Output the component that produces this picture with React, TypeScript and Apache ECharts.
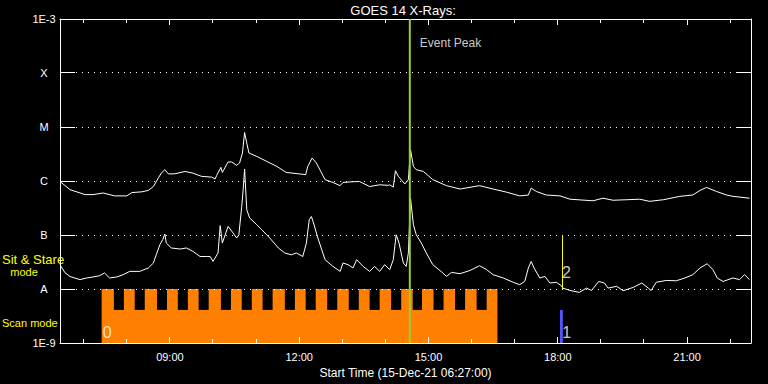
import React, { useEffect, useRef } from "react";
import * as echarts from "echarts";

const startTime = "06:27";
const endTime = "22:29";
const majorTicks = ["09:00", "12:00", "15:00", "18:00", "21:00"];
const minorTicks = ["07:00", "08:00", "10:00", "11:00", "13:00", "14:00", "16:00", "17:00", "19:00", "20:00", "22:00"];
const levelValues = [1e-9, 1e-8, 1e-7, 1e-6, 1e-5, 1e-4, 1e-3];
const levelLabels = ["1E-9", "A", "B", "C", "M", "X", "1E-3"];
const gridLevels = [1e-8, 1e-7, 1e-6, 1e-5, 1e-4];

// GOES 14 long channel (1-8 A), W/m^2
const longChannel: [string, number][] = [
  ["06:27", 9.8e-7], ["06:41", 6.9e-7], ["07:02", 5.6e-7], ["07:13", 5.6e-7], ["07:27", 6.0e-7],
  ["07:43", 5.3e-7], ["08:00", 5.3e-7], ["08:07", 6.1e-7], ["08:21", 6.3e-7], ["08:30", 6.7e-7],
  ["08:37", 7.9e-7], ["08:44", 1.14e-6], ["08:48", 1.4e-6], ["08:53", 1.62e-6], ["08:58", 1.35e-6],
  ["09:07", 1.36e-6], ["09:21", 1.5e-6], ["09:32", 1.4e-6], ["09:44", 1.22e-6], ["09:58", 1.18e-6],
  ["10:03", 1.09e-6], ["10:05", 1.26e-6], ["10:11", 1.79e-6], ["10:13", 1.44e-6], ["10:21", 2.25e-6],
  ["10:26", 2.25e-6], ["10:33", 1.95e-6], ["10:37", 2.15e-6], ["10:41", 3.3e-6], ["10:44", 7.9e-6],
  ["10:47", 5.05e-6], ["10:50", 3.3e-6], ["11:01", 2.85e-6], ["11:15", 2.3e-6], ["11:29", 1.86e-6],
  ["11:42", 1.44e-6], ["12:01", 1.35e-6], ["12:09", 1.31e-6], ["12:12", 1.86e-6], ["12:18", 2.67e-6],
  ["12:24", 2.15e-6], ["12:36", 1.06e-6], ["12:47", 9.4e-7], ["12:57", 8.2e-7], ["13:01", 9.4e-7],
  ["13:15", 9.7e-7], ["13:24", 9.8e-7], ["13:38", 7.9e-7], ["13:52", 8.5e-7], ["14:04", 8.3e-7],
  ["14:06", 8.5e-7], ["14:11", 7.7e-7], ["14:14", 1.55e-6], ["14:18", 1.22e-6], ["14:27", 8.8e-7],
  ["14:32", 1.06e-6], ["14:35", 3.8e-6], ["14:39", 1.86e-6], ["14:43", 1.62e-6], ["14:53", 1.5e-6],
  ["15:06", 1.06e-6], ["15:25", 8.2e-7], ["15:44", 7.1e-7], ["16:11", 8.2e-7], ["16:30", 7.1e-7],
  ["16:49", 6.2e-7], ["17:07", 5.3e-7], ["17:19", 5.5e-7], ["17:23", 7.4e-7], ["17:30", 6.4e-7],
  ["17:44", 5.5e-7], ["18:03", 5.3e-7], ["18:17", 4.6e-7], ["18:49", 4.3e-7], ["19:03", 4.8e-7],
  ["19:17", 4.4e-7], ["19:36", 4.5e-7], ["19:54", 4.6e-7], ["20:08", 4.2e-7], ["20:27", 4.5e-7],
  ["20:50", 5.2e-7], ["21:08", 5.5e-7], ["21:18", 6.7e-7], ["21:27", 7.6e-7], ["21:41", 6.4e-7],
  ["21:55", 5.5e-7], ["22:04", 5.2e-7], ["22:27", 4.8e-7],
];

// GOES 14 short channel (0.5-4 A), W/m^2
const shortChannel: [string, number][] = [
  ["06:27", 2.8e-8], ["06:34", 2.0e-8], ["06:41", 1.7e-8], ["06:55", 1.49e-8], ["07:04", 1.6e-8],
  ["07:13", 1.67e-8], ["07:22", 1.76e-8], ["07:29", 1.98e-8], ["07:36", 1.6e-8], ["07:46", 1.67e-8],
  ["07:55", 1.84e-8], ["08:04", 2.12e-8], ["08:18", 2.12e-8], ["08:30", 2.45e-8], ["08:37", 3.03e-8],
  ["08:41", 4.3e-8], ["08:46", 6.6e-8], ["08:50", 8.2e-8], ["08:53", 1.04e-7], ["08:55", 7.1e-8],
  ["09:02", 5.75e-8], ["09:14", 5.5e-8], ["09:23", 5.75e-8], ["09:32", 4.97e-8], ["09:42", 4.0e-8],
  ["09:51", 4.0e-8], ["09:56", 4.0e-8], ["10:00", 3.24e-8], ["10:07", 4.64e-8], ["10:10", 1.49e-7],
  ["10:13", 7.1e-8], ["10:21", 1.44e-7], ["10:28", 1.09e-7], ["10:33", 8.8e-8], ["10:36", 1.01e-7],
  ["10:40", 3.37e-7], ["10:42", 6.9e-7], ["10:44", 1.67e-6], ["10:47", 2.94e-7], ["10:51", 2.07e-7],
  ["11:01", 1.55e-7], ["11:08", 1.25e-7], ["11:19", 8.8e-8], ["11:31", 5.75e-8], ["11:40", 4.64e-8],
  ["11:49", 4.3e-8], ["11:56", 4.64e-8], ["12:05", 4.0e-8], ["12:10", 7.1e-8], ["12:14", 1.92e-7],
  ["12:17", 2.2e-7], ["12:20", 1.67e-7], ["12:26", 8.8e-8], ["12:36", 3.49e-8], ["12:47", 2.62e-8],
  ["12:57", 2.12e-8], ["13:01", 3.03e-8], ["13:08", 2.82e-8], ["13:15", 2.45e-8], ["13:20", 3.49e-8],
  ["13:29", 2.62e-8], ["13:38", 2.12e-8], ["13:45", 2.62e-8], ["13:52", 2.12e-8], ["13:59", 2.82e-8],
  ["14:06", 2.28e-8], ["14:11", 3.49e-8], ["14:15", 1.01e-7], ["14:19", 7.1e-8], ["14:25", 3.03e-8],
  ["14:29", 2.62e-8], ["14:32", 4.64e-8], ["14:35", 4.8e-7], ["14:39", 1.55e-7], ["14:43", 1.01e-7],
  ["14:50", 7.1e-8], ["14:57", 4.64e-8], ["15:06", 2.82e-8], ["15:20", 1.98e-8], ["15:25", 1.71e-8],
  ["15:32", 2.03e-8], ["15:44", 1.92e-8], ["15:58", 2.21e-8], ["16:11", 2.7e-8], ["16:21", 2.28e-8],
  ["16:30", 1.84e-8], ["16:44", 1.6e-8], ["16:58", 1.33e-8], ["17:07", 1.2e-8], ["17:14", 1.38e-8],
  ["17:19", 2.45e-8], ["17:23", 3.24e-8], ["17:27", 2.45e-8], ["17:35", 1.6e-8], ["17:42", 1.71e-8],
  ["17:49", 1.29e-8], ["17:58", 1.33e-8], ["18:05", 1.15e-8], ["18:07", 1.04e-8], ["18:17", 9.4e-9],
  ["18:30", 8.65e-9], ["18:40", 1.04e-8], ["18:47", 9.4e-9], ["18:57", 1.38e-8], ["19:05", 1.29e-8],
  ["19:10", 1.04e-8], ["19:22", 1.12e-8], ["19:31", 9.3e-9], ["19:45", 1.07e-8], ["19:57", 1.29e-8],
  ["20:06", 1.04e-8], ["20:10", 9.4e-9], ["20:17", 1.33e-8], ["20:31", 1.44e-8], ["20:45", 1.42e-8],
  ["20:57", 1.6e-8], ["21:08", 1.84e-8], ["21:18", 2.45e-8], ["21:28", 2.94e-8], ["21:36", 2.28e-8],
  ["21:42", 1.6e-8], ["21:50", 1.38e-8], ["22:04", 1.6e-8], ["22:13", 1.49e-8], ["22:20", 1.84e-8],
  ["22:27", 1.49e-8],
];

// Instrument mode band
const scanBlock: [string, string] = ["07:25", "16:36"];
const bandBottom = 1e-9;
const bandTop = 1e-8;
const notchLevel = 4.1e-9;
const notches: [string, string][] = [
  ["07:42", "07:56"], ["08:11", "08:25"], ["08:42", "08:56"], ["09:11", "09:25"], ["09:40", "09:54"],
  ["10:11", "10:25"], ["10:40", "10:54"], ["11:09", "11:23"], ["11:40", "11:54"], ["12:09", "12:23"],
  ["12:39", "12:53"], ["13:09", "13:23"], ["13:38", "13:52"], ["14:08", "14:22"], ["14:38", "14:51"],
  ["15:07", "15:21"], ["15:37", "15:51"], ["16:07", "16:21"],
];
const eventPeakTime = "14:34";
const eventLabelLevel = 3.64e-4;
const marker1: [string, string] = ["18:03", "18:07"];
const marker1Time = "18:05";
const marker2Time = "18:06";
const marker2Range: [number, number] = [1e-8, 1e-7];
const numberLabelLevel = 1.57e-9;
const marker2LabelLevel = 2.05e-8;

const toMin = (s: string) => {
  const [h, m] = s.split(":").map(Number);
  return h * 60 + m;
};
const fmtTime = (v: number) => {
  const h = Math.floor(v / 60);
  const m = Math.round(v - h * 60);
  return `${String(h).padStart(2, "0")}:${String(m).padStart(2, "0")}`;
};

const FONT = "Liberation Sans";
const ORANGE = "#ff8000";
const GREEN = "#9acd32";
const YELLOW = "#ffff00";
const BLUE = "#5555ff";
const WHITE = "#ffffff";

export default function App() {
  const ref = useRef<HTMLDivElement>(null);
  useEffect(() => {
    if (!ref.current) return;
    const chart = echarts.init(ref.current, undefined, { renderer: "svg" });
    const xMin = toMin(startTime);
    const xMax = toMin(endTime);
    const major = majorTicks.map(toMin);
    const minor = minorTicks.map(toMin);

    const rectRender = (color: string) => (params: any, api: any) => {
      const p0 = api.coord([api.value(0), api.value(3)]);
      const p1 = api.coord([api.value(1), api.value(2)]);
      return {
        type: "rect",
        shape: { x: p0[0], y: p0[1], width: p1[0] - p0[0], height: p1[1] - p0[1] },
        style: { fill: color },
      };
    };

    const crisp = (v: number) => Math.round(v - 0.5) + 0.5;

    // y-level ticks on both sides (15px, inward) + dotted grid line for inner levels
    const yTickRender = (params: any, api: any) => {
      const cs = params.coordSys;
      const val = api.value(1);
      const y = crisp(api.coord([xMin, val])[1]);
      const left = cs.x;
      const right = cs.x + cs.width;
      const children: any[] = [
        { type: "line", shape: { x1: left, y1: y, x2: left + 15, y2: y }, style: { stroke: WHITE, lineWidth: 1 } },
        { type: "line", shape: { x1: right - 15, y1: y, x2: right, y2: y }, style: { stroke: WHITE, lineWidth: 1 } },
      ];
      if (gridLevels.some((g) => Math.abs(Math.log10(g) - Math.log10(val)) < 1e-6)) {
        children.push({
          type: "line",
          shape: { x1: left + 16, y1: y, x2: right - 16, y2: y },
          style: { stroke: WHITE, lineWidth: 1, lineDash: [1, 5] },
        });
      }
      return { type: "group", children };
    };

    const xTickRender = (len: number) => (params: any, api: any) => {
      const cs = params.coordSys;
      const x = crisp(api.coord([api.value(0), levelValues[0]])[0]);
      const top = cs.y;
      const bottom = cs.y + cs.height;
      return {
        type: "group",
        children: [
          { type: "line", shape: { x1: x, y1: bottom, x2: x, y2: bottom - len }, style: { stroke: WHITE, lineWidth: 1 } },
          { type: "line", shape: { x1: x, y1: top, x2: x, y2: top + len }, style: { stroke: WHITE, lineWidth: 1 } },
        ],
      };
    };

    // crisp vertical marker line from value(1) to value(2) at time value(0)
    const vLineRender = (color: string) => (params: any, api: any) => {
      const p0 = api.coord([api.value(0), api.value(1)]);
      const p1 = api.coord([api.value(0), api.value(2)]);
      const x = crisp(p0[0]);
      return {
        type: "line",
        shape: { x1: x, y1: p0[1], x2: x, y2: p1[1] },
        style: { stroke: color, lineWidth: 1 },
      };
    };

    const xAxisCommon = (position: "top" | "bottom", showLabel: boolean) => ({
      type: "value",
      position,
      min: xMin,
      max: xMax,
      axisLine: { show: true, onZero: false, lineStyle: { color: WHITE, width: 1 } },
      axisTick: { show: false },
      axisLabel: {
        show: showLabel,
        customValues: major,
        formatter: (v: number) => fmtTime(v),
        color: WHITE,
        fontFamily: FONT,
        fontSize: 11,
        margin: 8,
      },
      splitLine: { show: false },
    });

    const yAxisCommon = (position: "left" | "right", showLabel: boolean) => ({
      type: "log",
      logBase: 10,
      position,
      min: 1e-9,
      max: 1e-3,
      axisLine: { show: true, onZero: false, lineStyle: { color: WHITE, width: 1 } },
      axisTick: { show: false },
      axisLabel: {
        show: showLabel,
        customValues: levelValues,
        formatter: (v: number) => levelLabels[Math.round(Math.log10(v)) + 9] ?? "",
        color: WHITE,
        fontFamily: FONT,
        fontSize: 11,
        align: "center",
        margin: 16,
      },
      splitLine: { show: false },
    });

    const xAxisMain: any = xAxisCommon("bottom", true);
    xAxisMain.name = "Start Time (15-Dec-21 06:27:00)";
    xAxisMain.nameLocation = "middle";
    xAxisMain.nameGap = 20;
    xAxisMain.nameTextStyle = { color: WHITE, fontFamily: FONT, fontSize: 12 };

    const option: any = {
      animation: false,
      backgroundColor: "#000",
      grid: { left: 60, right: 17, top: 19, bottom: 41, containLabel: false },
      xAxis: [xAxisMain, xAxisCommon("top", false)],
      yAxis: [yAxisCommon("left", true), yAxisCommon("right", false)],
      graphic: [
        {
          type: "text", x: 403, y: 10,
          style: { text: "GOES 14 X-Rays:", fill: WHITE, fontFamily: FONT, fontSize: 13, align: "center", verticalAlign: "middle" },
        },
        {
          type: "text", x: 2, y: 259,
          style: { text: "Sit & Stare", fill: YELLOW, fontFamily: FONT, fontSize: 13, align: "left", verticalAlign: "middle" },
        },
        {
          type: "text", x: 24, y: 271.5,
          style: { text: "mode", fill: YELLOW, fontFamily: FONT, fontSize: 11, align: "center", verticalAlign: "middle" },
        },
        {
          type: "text", x: 2, y: 323,
          style: { text: "Scan mode", fill: YELLOW, fontFamily: FONT, fontSize: 11, align: "left", verticalAlign: "middle" },
        },
      ],
      series: [
        {
          name: "scan",
          type: "custom",
          z: 1,
          silent: true,
          renderItem: rectRender(ORANGE),
          encode: { x: [0, 1], y: [2, 3] },
          data: [[toMin(scanBlock[0]), toMin(scanBlock[1]), bandBottom, bandTop]],
        },
        {
          name: "stare",
          type: "custom",
          z: 2,
          silent: true,
          renderItem: rectRender("#000"),
          encode: { x: [0, 1], y: [2, 3] },
          data: notches.map(([a, b]) => [toMin(a), toMin(b), notchLevel, bandTop]),
        },
        {
          name: "marker1",
          type: "custom",
          z: 2,
          silent: true,
          renderItem: rectRender(BLUE),
          encode: { x: [0, 1], y: [2, 3] },
          data: [[toMin(marker1[0]), toMin(marker1[1]), bandBottom, notchLevel]],
        },
        {
          name: "yTicks",
          type: "custom",
          z: 3,
          silent: true,
          clip: false,
          renderItem: yTickRender,
          encode: { x: 0, y: 1 },
          data: levelValues.map((v) => [xMin, v]),
        },
        {
          name: "xMajorTicks",
          type: "custom",
          z: 3,
          silent: true,
          clip: false,
          renderItem: xTickRender(6),
          encode: { x: 0, y: 1 },
          data: major.map((t) => [t, levelValues[0]]),
        },
        {
          name: "xMinorTicks",
          type: "custom",
          z: 3,
          silent: true,
          clip: false,
          renderItem: xTickRender(4),
          encode: { x: 0, y: 1 },
          data: minor.map((t) => [t, levelValues[0]]),
        },
        {
          name: "long",
          type: "line",
          z: 4,
          showSymbol: false,
          lineStyle: { color: WHITE, width: 1 },
          data: longChannel.map(([t, v]) => [toMin(t), v]),
        },
        {
          name: "short",
          type: "line",
          z: 4,
          showSymbol: false,
          lineStyle: { color: WHITE, width: 1 },
          data: shortChannel.map(([t, v]) => [toMin(t), v]),
        },
        {
          name: "marker2",
          type: "custom",
          z: 5,
          silent: true,
          renderItem: vLineRender(YELLOW),
          encode: { x: 0, y: [1, 2] },
          data: [[toMin(marker2Time), marker2Range[0], marker2Range[1]]],
        },
        {
          name: "eventPeak",
          type: "line",
          z: 6,
          showSymbol: false,
          lineStyle: { color: GREEN, width: 2 },
          data: [[toMin(eventPeakTime), 1e-9], [toMin(eventPeakTime), 1e-3]],
        },
        {
          name: "labels",
          type: "scatter",
          z: 7,
          symbolSize: 0,
          silent: true,
          label: { show: true, position: "right", color: WHITE, fontFamily: FONT },
          data: [
            { value: [toMin(eventPeakTime), eventLabelLevel], label: { formatter: "Event Peak", distance: 10, fontSize: 12 } },
            { value: [toMin(scanBlock[0]), numberLabelLevel], label: { formatter: "0", distance: 1, fontSize: 16 } },
            { value: [toMin(marker1Time), numberLabelLevel], label: { formatter: "1", distance: 1, fontSize: 16 } },
            { value: [toMin(marker2Time), marker2LabelLevel], label: { formatter: "2", distance: 0, fontSize: 16 } },
          ],
        },
      ],
    };
    chart.setOption(option);
    return () => chart.dispose();
  }, []);
  return (
    <div
      ref={ref}
      style={{ position: "fixed", left: 0, top: 0, width: 768, height: 384, background: "#000" }}
    />
  );
}
